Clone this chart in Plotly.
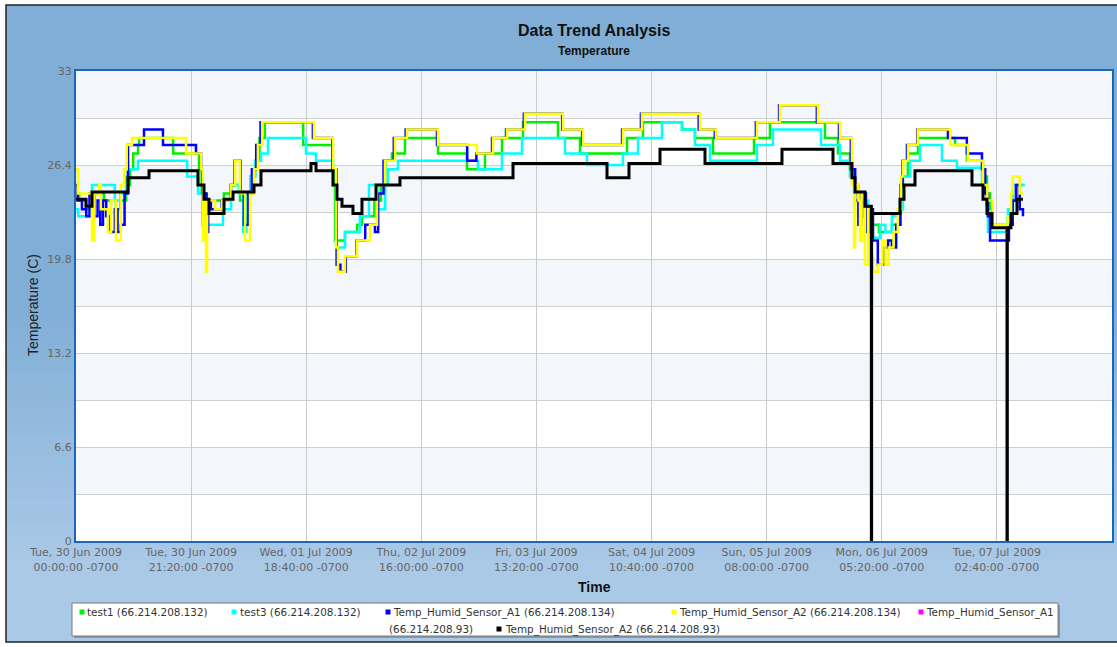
import plotly.graph_objects as go
import pandas as pd

# ---------------------------------------------------------------- data
START = pd.Timestamp("2009-06-30 00:00")

SERIES_NAMES = [
    "test1 (66.214.208.132)",
    "test3 (66.214.208.132)",
    "Temp_Humid_Sensor_A1 (66.214.208.134)",
    "Temp_Humid_Sensor_A2 (66.214.208.134)",
    "Temp_Humid_Sensor_A1 (66.214.208.93)",
    "Temp_Humid_Sensor_A2 (66.214.208.93)",
]
SERIES_COLORS = ["#00F000", "#00FFFF", "#0000FF", "#FFFF00", "#FF00FF", "#000000"]

# hours since START / temperature (C)
TEST1_HOURS = [0.0, 0.6, 1.9, 3.0, 5.2, 7.4, 8.2, 9.3, 10.0, 10.6, 11.5, 11.7, 18.0, 22.8, 23.3,
               24.1, 27.4, 28.7, 30.4, 31.3, 32.3, 33.2, 34.0, 35.0, 42.1, 47.6, 48.0, 49.85,
               52.1, 53.0, 55.3, 56.5, 57.3, 58.56, 60.97, 67.09, 72.46, 75.8, 78.95, 82.84,
               89.33, 93.4, 102.11, 105.08, 112.31, 114.71, 118.05, 125.65, 128.61, 138.81,
               141.22, 143.44, 144.2, 145.0, 146.0, 147.3, 148.8, 151.22, 152.5, 153.1, 154.19,
               156.04, 162.9, 165.12, 168.09, 168.83, 169.4, 169.76, 172.72, 173.46, 174.39, 175.5]
TEST1_TEMP = [24.4, 23.9, 23.3, 24.4, 23.9, 23.3, 23.9, 25.0, 26.1, 27.2, 27.8, 28.3, 27.2, 26.1, 24.4,
              23.9, 24.4, 25.0, 23.9, 24.4, 25.6, 26.7, 28.3, 29.4, 27.8, 26.1, 21.1, 21.7,
              22.2, 22.8, 23.9, 25.0, 26.7, 27.2, 28.3, 27.2, 26.1, 27.2, 28.3, 29.4,
              28.3, 27.2, 28.3, 29.4, 28.9, 28.3, 27.2, 28.3, 29.4, 28.3,
              27.2, 26.1, 25.0, 23.9, 22.8, 22.2, 21.7, 22.2, 23.3, 25.6, 27.2,
              28.3, 27.8, 26.7, 25.6, 24.4, 23.3, 22.2, 22.8, 23.9, 25.0, 25.0]

TEST3_HOURS = [0.0, 0.4, 2.97, 7.2, 8.2, 9.3, 9.64, 11.49, 20.6, 22.61, 23.4, 27.24, 28.73, 30.2,
               31.0, 31.6, 32.3, 33.2, 34.3, 35.58, 42.62, 44.48, 47.63, 48.2, 49.85, 52.6, 54.3,
               55.9, 57.3, 57.82, 59.67, 74.5, 78.95, 82.65, 90.62, 94.7, 101.37, 104.15, 108.6,
               112.31, 114.71, 117.49, 126.2, 129.17, 138.07, 141.59, 143.44, 144.2, 145.0, 146.0,
               146.8, 147.7, 149.0, 150.0, 151.2, 152.5, 153.26, 154.56, 156.41, 160.49, 163.27,
               167.9, 168.7, 169.01, 172.72, 173.65, 175.87]
TEST3_TEMP = [23.3, 22.8, 25.0, 23.9, 24.4, 25.6, 26.1, 26.7, 25.6, 24.4, 22.2, 23.3, 25.0, 24.4,
              21.7, 24.4, 25.6, 26.7, 27.2, 28.3, 27.2, 26.7, 25.0, 20.6, 21.7, 22.8, 25.0,
              23.3, 25.0, 26.1, 26.7, 26.1, 27.2, 28.3, 27.2, 26.4, 27.2, 28.3, 29.4,
              28.9, 27.8, 26.7, 27.8, 28.9, 27.8, 26.7, 25.6, 24.4, 22.8, 23.9,
              22.2, 21.3, 22.2, 21.7, 22.8, 23.3, 25.6, 26.7, 27.8, 26.7, 26.2,
              25.0, 23.6, 21.7, 23.3, 25.0, 25.0]

A1_134_HOURS = [0.0, 0.3, 1.1, 1.9, 2.5, 3.4, 4.0, 4.5, 5.0, 5.6, 6.3, 7.2, 7.7, 8.3, 9.0, 9.64,
                12.6, 16.12, 22.24, 23.17, 23.4, 24.2, 24.5, 25.0, 27.0, 28.7, 29.4, 30.5, 31.1,
                31.9, 32.6, 33.4, 34.2, 43.9, 47.5, 48.3, 49.0, 50.0, 52.0, 53.6, 55.4, 56.0,
                57.0, 58.9, 61.1, 66.9, 72.5, 74.2, 77.1, 79.7, 83.0, 90.1, 93.8, 101.2, 104.7,
                115.4, 118.4, 126.0, 130.3, 137.3, 141.4, 143.6, 144.4, 145.0, 145.6, 146.4,
                147.0, 147.7, 148.6, 149.9, 150.5, 151.2, 152.0, 152.8, 153.2, 154.0, 155.9,
                161.6, 165.1, 167.9, 168.5, 169.0, 169.4, 172.9, 173.6, 174.2, 174.9, 175.5]
A1_134_TEMP = [25.0, 23.9, 23.3, 22.8, 24.4, 22.8, 23.9, 22.2, 23.9, 22.8, 21.7, 23.3, 21.7, 22.2, 24.4, 27.8,
               28.9, 27.8, 27.2, 26.1, 24.4, 21.7, 23.9, 23.3, 23.9, 25.0, 26.7, 24.4, 22.2,
               24.4, 26.1, 27.8, 29.4, 28.3, 26.1, 19.4, 18.9, 20.0, 21.1, 22.2, 21.7, 24.4,
               26.7, 28.3, 28.9, 27.8, 26.7, 27.2, 28.3, 28.9, 30.0, 28.9, 27.8, 28.9, 30.0,
               28.9, 28.3, 29.4, 30.6, 29.4, 28.3, 26.1, 23.9, 22.2, 24.4, 21.7,
               23.3, 21.1, 19.4, 20.6, 21.1, 20.6, 22.2, 25.0, 26.7, 27.8, 28.9,
               28.3, 27.2, 26.1, 24.4, 22.8, 21.1, 22.2, 23.9, 25.0, 23.3, 22.8]

A2_134_HOURS = [0.0, 0.35, 2.97, 3.4, 4.3, 4.6, 5.9, 6.5, 7.4, 8.3, 8.9, 9.4, 10.38, 20.39, 23.17,
                23.5, 23.8, 24.09, 24.3, 25.76, 27.06, 28.73, 29.5, 30.39, 31.32, 32.25, 33.0,
                33.7, 34.5, 44.11, 47.63, 48.2, 48.55, 49.85, 52.08, 54.48, 55.78, 57.26, 59.12,
                61.34, 67.09, 74.31, 77.28, 79.87, 83.21, 90.25, 93.96, 101.37, 104.89, 115.64,
                118.61, 126.2, 130.47, 137.51, 141.59, 143.81, 144.2, 144.4, 145.0, 145.3, 145.6,
                146.2, 146.8, 147.3, 147.7, 148.6, 149.4, 150.0, 150.6, 151.5, 152.3, 152.9,
                153.3, 154.2, 156.0, 162.0, 165.3, 168.1, 168.9, 169.9, 172.7, 173.3, 173.6,
                174.9, 175.5]
A2_134_TEMP = [26.1, 24.4, 21.1, 24.4, 25.0, 23.3, 21.7, 23.9, 21.1, 25.0, 26.1, 27.8, 28.3, 27.2, 26.1,
               21.1, 23.9, 18.9, 23.9, 23.3, 23.9, 25.0, 26.7, 24.4, 21.1, 24.4, 26.1,
               27.8, 29.4, 28.3, 26.1, 20.6, 18.9, 20.0, 21.1, 22.2, 25.0, 26.7, 28.3,
               28.9, 27.8, 27.2, 28.3, 28.9, 30.0, 28.9, 27.8, 28.9, 30.0, 28.9,
               28.3, 29.4, 30.6, 29.4, 28.3, 25.0, 20.6, 25.0, 23.9, 21.1, 24.4,
               19.4, 23.3, 20.0, 18.9, 19.4, 21.1, 19.4, 20.6, 21.7, 23.3, 25.6,
               26.7, 27.8, 28.9, 27.8, 26.7, 25.0, 23.9, 22.2, 22.8, 24.4, 25.6,
               24.4, 24.4]

A1_93_HOURS = []
A1_93_TEMP = []

A2_93_HOURS = [0.0, 1.85, 2.97, 9.64, 13.53, 22.61, 23.72, 24.65, 27.43, 29.1, 32.99, 34.28, 43.55,
               44.48, 47.63, 48.37, 49.3, 51.33, 53.0, 55.6, 60.04, 80.99, 98.41, 102.48, 108.23,
               116.57, 130.84, 140.29, 143.81, 144.37, 146.22, 147.4, 147.45, 152.71, 153.45,
               155.49, 166.05, 168.09, 168.83, 169.76, 172.54, 172.6, 173.28, 174.39, 175.5]
A2_93_TEMP = [24.0, 23.5, 24.5, 25.5, 26.0, 25.0, 24.0, 23.0, 24.0, 24.5, 25.0, 26.0, 26.5,
              26.0, 25.0, 24.0, 23.5, 23.0, 24.0, 25.0, 25.5, 26.5, 25.5, 26.5, 27.5,
              26.5, 27.5, 26.5, 25.5, 24.5, 23.5, 0.0, 23.0, 24.0, 25.0,
              26.0, 25.0, 24.0, 23.0, 22.0, 0.0, 22.0, 23.0, 24.0, 24.0]

SERIES_HOURS = [TEST1_HOURS, TEST3_HOURS, A1_134_HOURS, A2_134_HOURS, A1_93_HOURS, A2_93_HOURS]
SERIES_TEMP = [TEST1_TEMP, TEST3_TEMP, A1_134_TEMP, A2_134_TEMP, A1_93_TEMP, A2_93_TEMP]

X_RANGE = ["2009-06-30 00:00", "2009-07-08 00:00"]
TICK_TIMES = ["2009-06-30 00:00", "2009-06-30 21:20", "2009-07-01 18:40", "2009-07-02 16:00",
              "2009-07-03 13:20", "2009-07-04 10:40", "2009-07-05 08:00", "2009-07-06 05:20",
              "2009-07-07 02:40"]
TICK_LABELS = ["Tue, 30 Jun 2009<br>00:00:00 -0700", "Tue, 30 Jun 2009<br>21:20:00 -0700",
               "Wed, 01 Jul 2009<br>18:40:00 -0700", "Thu, 02 Jul 2009<br>16:00:00 -0700",
               "Fri, 03 Jul 2009<br>13:20:00 -0700", "Sat, 04 Jul 2009<br>10:40:00 -0700",
               "Sun, 05 Jul 2009<br>08:00:00 -0700", "Mon, 06 Jul 2009<br>05:20:00 -0700",
               "Tue, 07 Jul 2009<br>02:40:00 -0700"]
Y_MAX = 33
Y_GRID = [0, 3.3, 6.6, 9.9, 13.2, 16.5, 19.8, 23.1, 26.4, 29.7, 33]
Y_LABELS = ["0", "", "6.6", "", "13.2", "", "19.8", "", "26.4", "", "33"]

# ---------------------------------------------------------------- layout geometry
W, H = 1117, 647
PL, PR, PT, PB = 76, 1112, 71, 541


def fx(px):
    return (px - PL) / (PR - PL)


def fy(py):
    return (PB - py) / (PB - PT)


def to_times(hours):
    return [START + pd.Timedelta(hours=h) for h in hours]


fig = go.Figure()

for name, color, hrs, temps in zip(SERIES_NAMES, SERIES_COLORS, SERIES_HOURS, SERIES_TEMP):
    fig.add_trace(go.Scatter(
        x=to_times(hrs), y=temps, name=name, mode="lines",
        line=dict(color=color, width=3 if color == "#000000" else 2.5, shape="hv"),
        showlegend=False, hoverinfo="x+y+name",
    ))

shapes = []

# panel background: darker blue at the top fading to a lighter blue at the bottom
top_rgb = (128, 174, 214)
bot_rgb = (170, 201, 231)
g0, g1, steps = 300, 570, 30
shapes.append(dict(type="rect", xref="paper", yref="paper", x0=fx(6), x1=fx(1140),
                   y0=fy(5), y1=fy(g0), fillcolor="rgb(%d,%d,%d)" % top_rgb, line_width=0,
                   layer="below"))
for i in range(steps):
    t = (i + 0.5) / steps
    c = tuple(round(a + (b - a) * t) for a, b in zip(top_rgb, bot_rgb))
    ya = g0 + (g1 - g0) * i / steps
    yb = g0 + (g1 - g0) * (i + 1) / steps + 0.6
    shapes.append(dict(type="rect", xref="paper", yref="paper", x0=fx(6), x1=fx(1140),
                       y0=fy(ya), y1=fy(yb), fillcolor="rgb(%d,%d,%d)" % c, line_width=0,
                       layer="below"))
shapes.append(dict(type="rect", xref="paper", yref="paper", x0=fx(6), x1=fx(1140),
                   y0=fy(g1), y1=fy(642), fillcolor="rgb(%d,%d,%d)" % bot_rgb, line_width=0,
                   layer="below"))
# outer frame
shapes.append(dict(type="rect", xref="paper", yref="paper", x0=fx(6), x1=fx(1140),
                   y0=fy(5), y1=fy(642), line=dict(color="#222222", width=1.5),
                   fillcolor="rgba(0,0,0,0)", layer="below"))

# alternating horizontal bands inside the plot area
for i in range(len(Y_GRID) - 1):
    shapes.append(dict(type="rect", xref="paper", yref="y", x0=0, x1=1,
                       y0=Y_GRID[i], y1=Y_GRID[i + 1],
                       fillcolor="#F3F7FC" if i % 2 == 1 else "#FFFFFF",
                       line_width=0, layer="below"))

# legend box
LEG_X0, LEG_X1, LEG_Y0, LEG_Y1 = 72, 1058, 603, 636
shapes.append(dict(type="rect", xref="paper", yref="paper", x0=fx(LEG_X0 + 2), x1=fx(LEG_X1 + 2),
                   y0=fy(LEG_Y0 + 2), y1=fy(LEG_Y1 + 2), fillcolor="rgba(60,60,60,0.35)",
                   line_width=0, layer="above"))
shapes.append(dict(type="rect", xref="paper", yref="paper", x0=fx(LEG_X0), x1=fx(LEG_X1),
                   y0=fy(LEG_Y0), y1=fy(LEG_Y1), fillcolor="#FFFFFF",
                   line=dict(color="#7A7A7A", width=1), layer="above"))

annotations = []
ROW_Y = [612, 629]
# (marker x, marker row, [(text x, row) for each wrapped piece])
LEG_POS = [
    (82, 0, [(85, 0)]),
    (234, 0, [(238, 0)]),
    (388, 0, [(391, 0)]),
    (674, 0, [(677, 0)]),
    (921, 0, [(924, 0), (387, 1)]),
    (499, 1, [(503, 1)]),
]
for name, color, (mx, mrow, pieces) in zip(SERIES_NAMES, SERIES_COLORS, LEG_POS):
    my = ROW_Y[mrow]
    shapes.append(dict(type="rect", xref="paper", yref="paper", x0=fx(mx - 2.5), x1=fx(mx + 2.5),
                       y0=fy(my - 2.5), y1=fy(my + 2.5), fillcolor=color, line_width=0,
                       layer="above"))
    parts = [name] if len(pieces) == 1 else name.split(" ", 1)
    for (tx, row), txt in zip(pieces, parts):
        annotations.append(dict(text=txt, xref="paper", yref="paper", x=fx(tx), y=fy(ROW_Y[row]),
                                xanchor="left", yanchor="middle", showarrow=False,
                                font=dict(family="DejaVu Sans", size=10.4, color="#333333")))

BOLD = "Liberation Sans, Arial, sans-serif"
annotations += [
    dict(text="<b>Data Trend Analysis</b>", xref="paper", yref="paper", x=fx(594), y=fy(30),
         xanchor="center", yanchor="middle", showarrow=False,
         font=dict(family=BOLD, size=16, color="#111111")),
    dict(text="<b>Temperature</b>", xref="paper", yref="paper", x=fx(594), y=fy(51),
         xanchor="center", yanchor="middle", showarrow=False,
         font=dict(family=BOLD, size=12, color="#111111")),
    dict(text="<b>Time</b>", xref="paper", yref="paper", x=fx(594), y=fy(587),
         xanchor="center", yanchor="middle", showarrow=False,
         font=dict(family=BOLD, size=14, color="#111111")),
    dict(text="Temperature (C)", xref="paper", yref="paper", x=fx(33), y=fy(305),
         xanchor="center", yanchor="middle", showarrow=False, textangle=-90,
         font=dict(family=BOLD, size=14, color="#222222")),
]

fig.update_layout(
    width=W, height=H,
    margin=dict(l=PL, r=W - PR, t=PT, b=H - PB, pad=0),
    paper_bgcolor="#FFFFFF",
    plot_bgcolor="#FFFFFF",
    shapes=shapes,
    annotations=annotations,
    showlegend=False,
    xaxis=dict(
        type="date", range=X_RANGE, tickmode="array", tickvals=TICK_TIMES, ticktext=TICK_LABELS,
        showgrid=True, gridcolor="#C9C9C9", gridwidth=1, zeroline=False,
        showline=True, linecolor="#1A66B8", linewidth=2, mirror=True,
        ticks="", tickfont=dict(family="DejaVu Sans", size=11, color="#666666"),
        automargin=False,
    ),
    yaxis=dict(
        range=[0, Y_MAX], tickmode="array", tickvals=Y_GRID, ticktext=Y_LABELS,
        showgrid=True, gridcolor="#CFCFCF", gridwidth=1, zeroline=False,
        showline=True, linecolor="#1A66B8", linewidth=2, mirror=True,
        ticks="", tickfont=dict(family="DejaVu Sans", size=11, color="#666666"),
        automargin=False,
    ),
)

fig.write_html("out.html")
